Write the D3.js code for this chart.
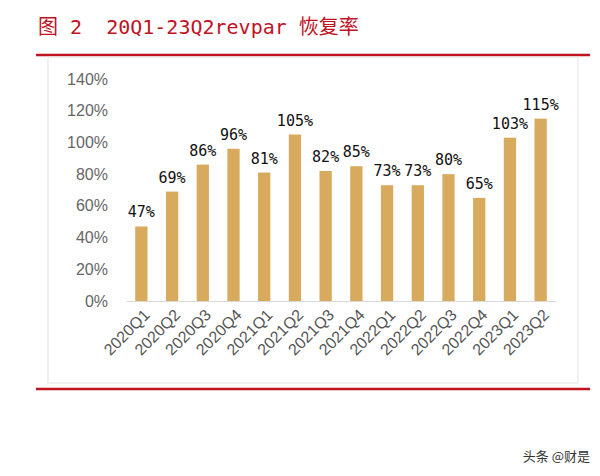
<!DOCTYPE html>
<html>
<head>
<meta charset="utf-8">
<script src="https://cdn.jsdelivr.net/npm/d3@7"></script>
<style>
  body { margin: 0; background: #fff; }
  svg { display: block; }
</style>
</head>
<body>
<svg id="chart" width="600" height="476"></svg>
<script>
var quarters = ['2020Q1', '2020Q2', '2020Q3', '2020Q4', '2021Q1', '2021Q2', '2021Q3',
  '2021Q4', '2022Q1', '2022Q2', '2022Q3', '2022Q4', '2023Q1', '2023Q2'];
var recovery = [47, 69, 86, 96, 81, 105, 82, 85, 73, 73, 80, 65, 103, 115];
var yTicks = [0, 20, 40, 60, 80, 100, 120, 140];

var svg = d3.select('#chart');

// title + red rules
svg.append('text')
  .attr('x', 38).attr('y', 34)
  .attr('fill', '#c0121f')
  .attr('xml:space', 'preserve')
  .style('white-space', 'pre')
  .attr('font-family', '"DejaVu Sans Mono", "Noto Sans CJK SC", monospace')
  .attr('font-size', 20)
  .text('图 2  20Q1-23Q2revpar 恢复率');
svg.append('line').attr('x1', 36).attr('x2', 590).attr('y1', 55).attr('y2', 55)
  .attr('stroke', '#c0121f').attr('stroke-width', 2.5);
svg.append('line').attr('x1', 36).attr('x2', 590).attr('y1', 389).attr('y2', 389)
  .attr('stroke', '#c0121f').attr('stroke-width', 2.5);
svg.append('rect').attr('x', 48).attr('y', 57).attr('width', 530).attr('height', 326)
  .attr('fill', 'none').attr('stroke', '#e2e2e2');

var x = d3.scaleBand().domain(quarters).range([126, 556]).paddingInner(0.6).paddingOuter(0.3);
var y = d3.scaleLinear().domain([0, 140]).range([301, 79]);

var g = svg.append('g').attr('font-family', 'Arial, "Liberation Sans", sans-serif');

g.append('g')
  .attr('transform', 'translate(126,0)')
  .call(d3.axisLeft(y).tickValues(yTicks).tickFormat(d => d + '%').tickSize(0).tickPadding(18))
  .call(s => s.select('.domain').remove())
  .selectAll('text').attr('font-size', 16).attr('fill', '#666');

g.selectAll('.bar').data(recovery).enter().append('rect')
  .attr('x', (d, i) => x(quarters[i]))
  .attr('y', d => y(d))
  .attr('width', x.bandwidth())
  .attr('height', d => y(0) - y(d))
  .attr('fill', '#d7aa5e');

g.selectAll('.val').data(recovery).enter().append('text')
  .attr('x', (d, i) => x(quarters[i]) + x.bandwidth() / 2)
  .attr('y', d => y(d) - 9)
  .attr('text-anchor', 'middle')
  .attr('font-family', '"DejaVu Sans Mono", monospace')
  .attr('font-size', 15)
  .attr('fill', '#111')
  .text(d => d + '%');

var xa = g.append('g').attr('transform', 'translate(0,' + y(0) + ')')
  .call(d3.axisBottom(x).tickSize(0).tickPadding(6));
xa.select('.domain').attr('stroke', '#d9d9d9');
xa.selectAll('text')
  .attr('font-size', 16).attr('fill', '#555')
  .attr('text-anchor', 'end')
  .attr('dy', '0.7em')
  .attr('transform', 'rotate(-45) translate(-4,0)');

svg.append('text').attr('x', 590).attr('y', 461).attr('text-anchor', 'end')
  .attr('font-family', '"Noto Sans CJK SC", sans-serif').attr('font-size', 13).attr('fill', '#333')
  .text('头条 @财是');
</script>
</body>
</html>
